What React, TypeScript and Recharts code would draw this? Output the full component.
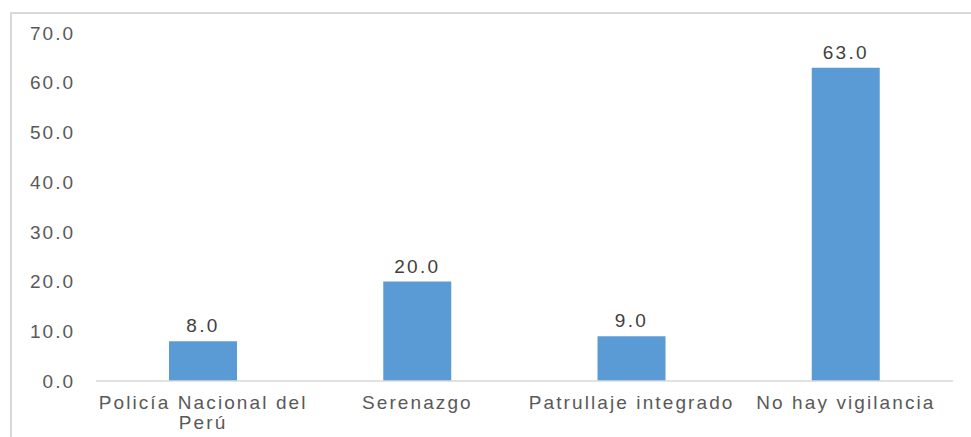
import { BarChart, Bar, XAxis, YAxis, LabelList } from "recharts";

const categories = [
  "Policía Nacional del Perú",
  "Serenazgo",
  "Patrullaje integrado",
  "No hay vigilancia",
];
const values = [8.0, 20.0, 9.0, 63.0];
const yTicks = [0, 10, 20, 30, 40, 50, 60, 70];

const data = categories.map((name, i) => ({ name, value: values[i] }));

const FONT = "'Liberation Sans', Arial, sans-serif";
const GREY = "#595959";

// split a label into lines of at most maxChars characters
const wrap = (s: string, maxChars: number) => {
  const lines: string[] = [];
  let cur = "";
  s.split(" ").forEach((w) => {
    const next = cur ? cur + " " + w : w;
    if (next.length > maxChars && cur) {
      lines.push(cur);
      cur = w;
    } else {
      cur = next;
    }
  });
  if (cur) lines.push(cur);
  return lines;
};

const CategoryTick = (props: any) => {
  const { x, y, payload } = props;
  const lines = wrap(String(payload.value), 20);
  return (
    <text
      x={x}
      y={y + 20}
      textAnchor="middle"
      fill={GREY}
      fontSize={19}
      fontFamily={FONT}
      style={{ letterSpacing: "2.1px" }}
    >
      {lines.map((l, i) => (
        <tspan key={i} x={x} dy={i === 0 ? 0 : 20}>
          {l}
        </tspan>
      ))}
    </text>
  );
};

export default function App() {
  return (
    <div
      style={{
        position: "absolute",
        left: 0,
        top: 0,
        width: 971,
        height: 437,
        overflow: "hidden",
        background: "#fff",
      }}
    >
      <div
        style={{
          position: "absolute",
          left: 10,
          top: 12,
          width: 990,
          height: 460,
          border: "2px solid #d9d9d9",
          boxSizing: "border-box",
        }}
      />
      <div style={{ position: "absolute", left: 0, top: 0 }}>
        <BarChart
          width={971}
          height={437}
          data={data}
          margin={{ top: 33, right: 18, bottom: 0, left: 0 }}
          barCategoryGap={73}
        >
          <XAxis
            dataKey="name"
            axisLine={{ stroke: "#d9d9d9", strokeWidth: 1.5 }}
            tickLine={false}
            height={56}
            interval={0}
            tick={<CategoryTick />}
          />
          <YAxis
            domain={[0, 70]}
            ticks={yTicks}
            width={96}
            axisLine={false}
            tickLine={false}
            tickSize={0}
            tickMargin={21}
            tickFormatter={(v: number) => v.toFixed(1)}
            tick={{
              fill: GREY,
              fontSize: 19,
              fontFamily: FONT,
              letterSpacing: "2px",
            }}
          />
          <Bar dataKey="value" fill="#5b9bd5" isAnimationActive={false}>
            <LabelList
              dataKey="value"
              position="top"
              offset={9}
              formatter={(v: any) => Number(v).toFixed(1)}
              style={{
                fill: "#404040",
                fontSize: 19,
                fontFamily: FONT,
                letterSpacing: "2.3px",
              }}
            />
          </Bar>
        </BarChart>
      </div>
    </div>
  );
}
